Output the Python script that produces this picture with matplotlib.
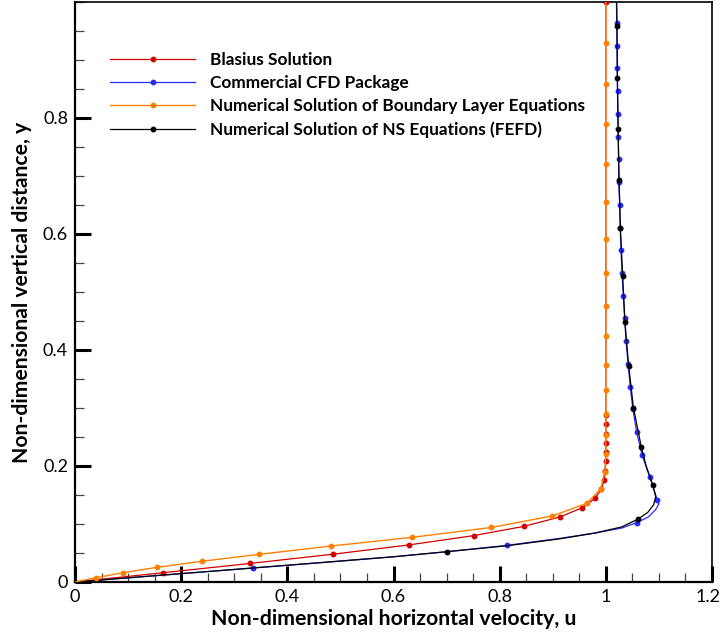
import matplotlib
matplotlib.use("Agg")
import matplotlib.pyplot as plt
from matplotlib.ticker import MultipleLocator
from matplotlib.transforms import ScaledTranslation

# Blasius similarity solution (u = f'(eta), y = 0.032 * eta)
blasius_u = [0.0, 0.16589, 0.32979, 0.48679, 0.62977, 0.75127, 0.84605, 0.91304,
             0.95552, 0.97951, 0.99155, 0.99688, 0.99898, 0.99970, 0.99992,
             0.99998, 1.0, 1.0, 1.0, 1.0]
blasius_y = [0.0, 0.016, 0.032, 0.048, 0.064, 0.080, 0.096, 0.112, 0.128, 0.144,
             0.160, 0.176, 0.192, 0.208, 0.224, 0.240, 0.256, 0.272, 0.288, 1.0]
blasius_marks = list(range(1, 20))

# Commercial CFD package
cfd_u = [0.0, 0.2, 0.336, 0.47, 0.60, 0.70, 0.814, 0.914, 0.98, 1.03, 1.058, 1.08,
         1.094, 1.1, 1.097, 1.083, 1.068, 1.058, 1.051, 1.046, 1.042, 1.038, 1.0355,
         1.033, 1.0305, 1.0286, 1.027, 1.026, 1.0245, 1.024, 1.0236, 1.0228, 1.022,
         1.0215, 1.0211, 1.0205, 1.020]
cfd_y = [0.0, 0.0143, 0.0241, 0.0338, 0.0435, 0.0522, 0.0632, 0.0753, 0.0845, 0.093,
         0.1023, 0.112, 0.125, 0.135, 0.1414, 0.1805, 0.2195, 0.2586, 0.2977, 0.3368,
         0.376, 0.4155, 0.4546, 0.4936, 0.533, 0.5724, 0.611, 0.6505, 0.6897, 0.7287,
         0.768, 0.807, 0.847, 0.886, 0.925, 0.964, 1.0]
cfd_marks = [2, 6, 10] + list(range(14, 36))

# Numerical solution of the boundary layer equations
bl_u = [0.0, 0.04, 0.09, 0.1545, 0.2386, 0.347, 0.482, 0.635, 0.784, 0.899, 0.964,
        0.990, 0.998, 1.0, 1.0, 1.0, 1.0, 1.0, 1.0, 1.0, 1.0, 1.0, 1.0, 1.0, 1.0,
        1.0, 1.0, 1.0]
bl_y = [0.0, 0.0074, 0.016, 0.0253, 0.0357, 0.0477, 0.062, 0.077, 0.094, 0.1138,
        0.1357, 0.160, 0.189, 0.220, 0.2534, 0.289, 0.3305, 0.375, 0.4236, 0.476,
        0.532, 0.592, 0.655, 0.721, 0.789, 0.859, 0.930, 1.0]
bl_marks = list(range(1, 27))

# Numerical solution of the NS equations (FEFD)
ns_u = [0.0, 0.2, 0.336, 0.47, 0.60, 0.701, 0.814, 0.914, 0.98, 1.03, 1.061, 1.079,
        1.090, 1.094, 1.088, 1.076, 1.067, 1.052, 1.043, 1.036, 1.0317, 1.0275,
        1.025, 1.023, 1.0218, 1.021, 1.0205]
ns_y = [0.0, 0.0145, 0.0243, 0.034, 0.0435, 0.0523, 0.0625, 0.0745, 0.0845, 0.095,
        0.1086, 0.12, 0.133, 0.147, 0.168, 0.200, 0.232, 0.3005, 0.3724, 0.448,
        0.5276, 0.61, 0.693, 0.781, 0.869, 0.959, 1.0]
ns_marks = [5, 10, 14] + list(range(16, 26))

labels = ["Blasius Solution", "Commercial CFD Package",
          "Numerical Solution of Boundary Layer Equations",
          "Numerical Solution of NS Equations (FEFD)"]

x_ticks = [0, 0.2, 0.4, 0.6, 0.8, 1.0, 1.2]
x_ticklabels = ["0", "0.2", "0.4", "0.6", "0.8", "1", "1.2"]
y_ticks = [0, 0.2, 0.4, 0.6, 0.8]
y_ticklabels = ["0", "0.2", "0.4", "0.6", "0.8"]

plt.rcParams["font.family"] = ["Lato", "DejaVu Sans"]

fig = plt.figure(figsize=(7.22, 6.37), dpi=100)
ax = fig.add_axes([75 / 722, 55 / 637, 637 / 722, 580 / 637])

ms = 3.2
ax.plot(blasius_u, blasius_y, color="#d40000", lw=0.9, marker="o", ms=ms,
        markevery=blasius_marks, label=labels[0], zorder=3)
ax.plot(cfd_u, cfd_y, color="#2a2aff", lw=0.9, marker="o", ms=ms,
        markevery=cfd_marks, label=labels[1], zorder=2)
ax.plot(bl_u, bl_y, color="#ff8000", lw=1.0, marker="o", ms=ms,
        markevery=bl_marks, label=labels[2], zorder=4)
ax.plot(ns_u, ns_y, color="black", lw=0.9, marker="o", ms=ms,
        markevery=ns_marks, label=labels[3], zorder=3)

ax.set_xlim(0, 1.2)
ax.set_ylim(0, 1.0)
ax.set_xticks(x_ticks)
ax.set_xticklabels(x_ticklabels)
ax.set_yticks(y_ticks)
ax.set_yticklabels(y_ticklabels)
ax.xaxis.set_minor_locator(MultipleLocator(0.05))
ax.yaxis.set_minor_locator(MultipleLocator(0.05))

ax.tick_params(which="major", direction="in", length=11.5, width=2.2,
               labelsize=13, pad=5, color="black")
ax.tick_params(which="minor", direction="in", length=6.8, width=0.9,
               color="#444444")
ax.tick_params(top=False, right=False, which="both")

# keep the last x tick label inside the canvas
last = ax.get_xticklabels()[-1]
last.set_transform(last.get_transform()
                   + ScaledTranslation(-4 / 100, 0, fig.dpi_scale_trans))

for side in ("left", "bottom"):
    ax.spines[side].set_linewidth(1.6)
for side in ("top", "right"):
    ax.spines[side].set_linewidth(1.2)

ax.set_xlabel("Non-dimensional horizontal velocity, u", fontsize=15.3,
              fontweight="bold", labelpad=3)
ax.set_ylabel("Non-dimensional vertical distance, y", fontsize=15.2,
              fontweight="bold", labelpad=8)

leg = ax.legend(loc="upper left", bbox_to_anchor=(0.031, 0.9405), frameon=False,
                numpoints=1, handlelength=4.93, handletextpad=0.87,
                labelspacing=0.41, prop={"weight": "bold", "size": 12.4})

fig.savefig("out.png", dpi=100)
